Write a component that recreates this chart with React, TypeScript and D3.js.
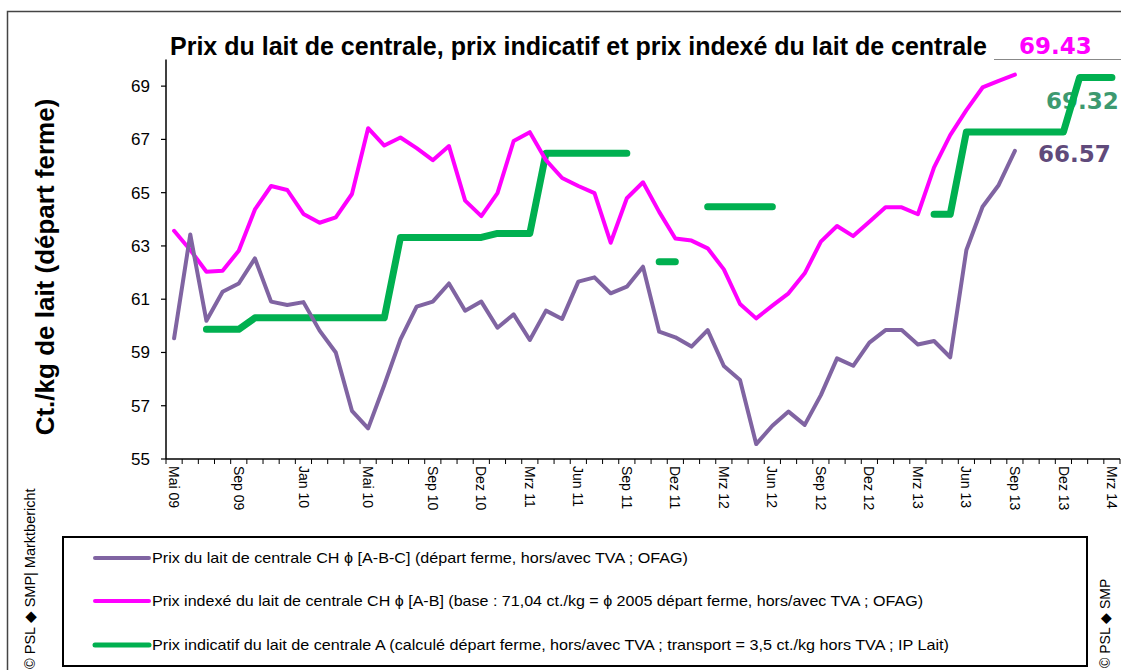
import * as d3 from "d3";
import { useEffect, useRef } from "react";

// categories (one per month)
const months = [
  "Mai 09", "Jun 09", "Jul 09", "Aug 09", "Sep 09", "Okt 09", "Nov 09", "Dez 09",
  "Jan 10", "Feb 10", "Mrz 10", "Apr 10", "Mai 10", "Jun 10", "Jul 10", "Aug 10", "Sep 10", "Okt 10", "Nov 10", "Dez 10",
  "Jan 11", "Feb 11", "Mrz 11", "Apr 11", "Mai 11", "Jun 11", "Jul 11", "Aug 11", "Sep 11", "Okt 11", "Nov 11", "Dez 11",
  "Jan 12", "Feb 12", "Mrz 12", "Apr 12", "Mai 12", "Jun 12", "Jul 12", "Aug 12", "Sep 12", "Okt 12", "Nov 12", "Dez 12",
  "Jan 13", "Feb 13", "Mrz 13", "Apr 13", "Mai 13", "Jun 13", "Jul 13", "Aug 13", "Sep 13", "Okt 13", "Nov 13", "Dez 13",
  "Jan 14", "Feb 14", "Mrz 14",
];

const tickLabels = [
  "Mai 09", "Sep 09", "Jan 10", "Mai 10", "Sep 10", "Dez 10", "Mrz 11", "Jun 11", "Sep 11", "Dez 11",
  "Mrz 12", "Jun 12", "Sep 12", "Dez 12", "Mrz 13", "Jun 13", "Sep 13", "Dez 13", "Mrz 14",
];

const yTicks = [55, 57, 59, 61, 63, 65, 67, 69];

// Prix du lait de centrale CH [A-B-C]
const prixCentrale = [
  59.53, 63.43, 60.19, 61.28, 61.59, 62.53, 60.91, 60.78,
  60.89, 59.82, 59.0, 56.81, 56.15, 57.78, 59.49, 60.72, 60.91, 61.59, 60.57, 60.91,
  59.93, 60.43, 59.47, 60.57, 60.26, 61.66, 61.82, 61.22, 61.47, 62.22, 59.78, 59.57,
  59.22, 59.84, 58.49, 57.97, 55.56, 56.25, 56.78, 56.28, 57.4, 58.78, 58.5, 59.37,
  59.84, 59.84, 59.3, 59.43, 58.82, 62.85, 64.47, 65.29, 66.57,
];

// Prix indexé du lait de centrale CH [A-B]
const prixIndexe = [
  63.57, 62.85, 62.03, 62.07, 62.82, 64.37, 65.25, 65.1,
  64.2, 63.87, 64.07, 64.95, 67.42, 66.77, 67.07, 66.67, 66.22, 66.75, 64.7, 64.12,
  64.98, 66.94, 67.27, 66.22, 65.55, 65.25, 64.98, 63.12, 64.79, 65.39, 64.28, 63.28,
  63.2, 62.91, 62.12, 60.82, 60.28, 60.76, 61.22, 61.97, 63.16, 63.75, 63.37, 63.91,
  64.45, 64.45, 64.19, 65.95, 67.16, 68.1, 68.95, 69.2, 69.43,
];

// Prix indicatif du lait de centrale A (null = pas de valeur)
const prixIndicatif: (number | null)[] = [
  null, null, 59.87, 59.87, 59.87, 60.3, 60.3, 60.3,
  60.3, 60.3, 60.3, 60.3, 60.3, 60.3, 63.32, 63.32, 63.32, 63.32, 63.32, 63.32,
  63.47, 63.47, 63.47, 66.48, 66.48, 66.48, 66.48, 66.48, 66.48, null, 62.41, 62.41,
  null, 64.47, 64.47, 64.47, 64.47, 64.47, null, null, null, null, null, null,
  null, null, null, 64.19, 64.19, 67.28, 67.28, 67.28, 67.28, 67.28, 67.28, 67.28,
  69.32, 69.32, 69.32,
];

const legendItems = [
  { text: "Prix du lait de centrale CH ϕ [A-B-C] (départ ferme, hors/avec TVA ; OFAG)", color: "#8064A2", w: 4, len: 536 },
  { text: "Prix indexé du lait de centrale CH ϕ [A-B] (base : 71,04 ct./kg = ϕ 2005 départ ferme, hors/avec TVA ; OFAG)", color: "#FF00FF", w: 4, len: 771 },
  { text: "Prix indicatif du lait de centrale A (calculé départ ferme, hors/avec TVA ; transport = 3,5 ct./kg hors TVA ; IP Lait)", color: "#00B050", w: 5, len: 797 },
];

const ARIAL = "'Liberation Sans', Arial, sans-serif";
const VERDANA = "'DejaVu Sans', Verdana, sans-serif";

export default function App() {
  const ref = useRef<SVGSVGElement | null>(null);

  useEffect(() => {
    if (!ref.current) return;
    const svg = d3.select(ref.current);
    svg.selectAll("*").remove();

    const left = 166;
    const right = 1120;
    const top = 59.5;
    const bottom = 459;

    const x = d3.scaleBand<string>().domain(months).range([left, right]);
    const bw = x.bandwidth();
    const cx = (m: string) => (x(m) as number) + bw / 2;
    const y = d3.scaleLinear().domain([55, 70]).range([bottom, top]);

    // outer frame
    svg.append("rect")
      .attr("x", 7.5).attr("y", 11.5)
      .attr("width", 1300).attr("height", 800)
      .attr("fill", "none").attr("stroke", "#444").attr("stroke-width", 1.5);

    // title
    svg.append("text")
      .attr("x", 170).attr("y", 55)
      .attr("font-family", ARIAL).attr("font-weight", "bold").attr("font-size", 25)
      .text("Prix du lait de centrale, prix indicatif et prix indexé du lait de centrale");

    svg.append("line")
      .attr("x1", 994).attr("x2", 1121).attr("y1", 59.5).attr("y2", 59.5)
      .attr("stroke", "#888").attr("stroke-width", 1);

    // y axis
    const gy = svg.append("g");
    gy.append("line")
      .attr("x1", left).attr("x2", left).attr("y1", top).attr("y2", bottom)
      .attr("stroke", "#000").attr("stroke-width", 1.5);
    gy.selectAll("line.tick").data(yTicks).join("line")
      .attr("class", "tick")
      .attr("x1", left - 5).attr("x2", left)
      .attr("y1", (d) => y(d)).attr("y2", (d) => y(d))
      .attr("stroke", "#000").attr("stroke-width", 1.2);
    gy.selectAll("text").data(yTicks).join("text")
      .attr("x", 150).attr("y", (d) => y(d) + 6)
      .attr("text-anchor", "end")
      .attr("font-family", ARIAL).attr("font-size", 17)
      .text((d) => d);

    svg.append("text")
      .attr("transform", "translate(54,267) rotate(-90)")
      .attr("text-anchor", "middle")
      .attr("font-family", ARIAL).attr("font-weight", "bold").attr("font-size", 26)
      .text("Ct./kg de lait (départ ferme)");

    // x axis
    const gx = svg.append("g");
    gx.append("line")
      .attr("x1", left).attr("x2", right).attr("y1", bottom).attr("y2", bottom)
      .attr("stroke", "#000").attr("stroke-width", 1.5);
    const bounds = months.map((m) => x(m) as number).concat([right]);
    gx.selectAll("line.tick").data(bounds).join("line")
      .attr("class", "tick")
      .attr("x1", (d) => d).attr("x2", (d) => d)
      .attr("y1", bottom).attr("y2", bottom + 5)
      .attr("stroke", "#000").attr("stroke-width", 1);
    gx.selectAll("text").data(tickLabels).join("text")
      .attr("transform", (d) => `translate(${cx(d)},466) rotate(90)`)
      .attr("dy", "0.35em")
      .attr("font-family", ARIAL).attr("font-size", 14)
      .text((d) => d);

    // end labels
    const labels = [
      { t: "69.43", x: 1019, y: 54, c: "#FF00FF" },
      { t: "69.32", x: 1046, y: 109, c: "#3D9970" },
      { t: "66.57", x: 1038, y: 162, c: "#604A7B" },
    ];
    svg.selectAll("text.end").data(labels).join("text")
      .attr("class", "end")
      .attr("x", (d) => d.x).attr("y", (d) => d.y)
      .attr("font-family", VERDANA).attr("font-weight", "bold").attr("font-size", 23)
      .attr("fill", (d) => d.c)
      .text((d) => d.t);

    // lines
    const line = d3.line<number | null>()
      .defined((d) => d != null)
      .x((_d, i) => cx(months[i]))
      .y((d) => y(d as number));

    svg.append("path").datum(prixIndicatif)
      .attr("d", line)
      .attr("fill", "none").attr("stroke", "#00B050").attr("stroke-width", 7)
      .attr("stroke-linejoin", "round").attr("stroke-linecap", "round");
    svg.append("path").datum(prixIndexe)
      .attr("d", line)
      .attr("fill", "none").attr("stroke", "#FF00FF").attr("stroke-width", 4)
      .attr("stroke-linejoin", "round").attr("stroke-linecap", "round");
    svg.append("path").datum(prixCentrale)
      .attr("d", line)
      .attr("fill", "none").attr("stroke", "#8064A2").attr("stroke-width", 4)
      .attr("stroke-linejoin", "round").attr("stroke-linecap", "round");

    // legend
    const lg = svg.append("g");
    lg.append("rect")
      .attr("x", 63).attr("y", 537).attr("width", 1024).attr("height", 129)
      .attr("fill", "none").attr("stroke", "#000").attr("stroke-width", 2);
    const items = lg.selectAll("g").data(legendItems).join("g")
      .attr("transform", (_d, i) => `translate(0,${[558, 601, 645][i]})`);
    items.append("line")
      .attr("x1", 95).attr("x2", 149).attr("y1", 0).attr("y2", 0)
      .attr("stroke", (d) => d.color).attr("stroke-width", (d) => d.w)
      .attr("stroke-linecap", "round");
    items.append("text")
      .attr("x", 152).attr("y", 5)
      .attr("font-family", ARIAL).attr("font-size", 15)
      .attr("textLength", (d) => d.len).attr("lengthAdjust", "spacingAndGlyphs")
      .text((d) => d.text);

    // credits
    svg.append("text")
      .attr("transform", "translate(35,669) rotate(-90)")
      .attr("font-family", ARIAL).attr("font-size", 14.5)
      .text("© PSL ◆ SMP| Marktbericht");
    svg.append("text")
      .attr("transform", "translate(1110,668) rotate(-90)")
      .attr("font-family", ARIAL).attr("font-size", 14)
      .text("© PSL ◆ SMP");
  }, []);

  return (
    <svg
      ref={ref}
      width={1121}
      height={670}
      style={{ position: "absolute", left: 0, top: 0, background: "#fff" }}
    />
  );
}
